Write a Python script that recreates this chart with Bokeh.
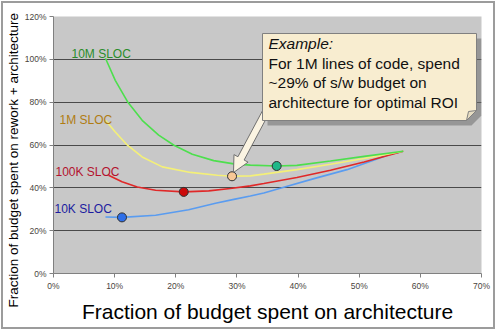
import numpy as np
from bokeh.plotting import figure
from bokeh.models import FixedTicker, Range1d, Title
from bokeh.core.properties import value
from bokeh.embed import file_html
from bokeh.resources import INLINE

# ---- data (percent) ----
x_ticks = [0, 10, 20, 30, 40, 50, 60, 70]
x_tick_labels = ["0%", "10%", "20%", "30%", "40%", "50%", "60%", "70%"]
y_ticks = [0, 20, 40, 60, 80, 100, 120]
y_tick_labels = ["0%", "20%", "40%", "60%", "80%", "100%", "120%"]

series_names = ["10M SLOC", "1M SLOC", "100K SLOC", "10K SLOC"]

x_10m = [8.5, 10.1, 12.2, 14.5, 17.2, 19.7, 22.7, 26.2, 29.5, 32.2, 36.5, 39.8, 45.3, 50.8, 57.2]
y_10m = [100.5, 90.2, 79.8, 71.5, 64.6, 59.9, 55.7, 52.7, 51.2, 50.6, 50.2, 50.5, 52.5, 54.7, 57.1]

x_1m = [8.5, 10.1, 12.1, 14.5, 17.8, 22.4, 26.8, 29.2, 32.2, 34.4, 39.8, 45.3, 50.8, 57.2]
y_1m = [71.6, 66.1, 59.9, 54.4, 49.8, 47.2, 45.9, 45.4, 45.6, 46.4, 48.5, 51.0, 53.7, 57.1]

x_100k = [9.0, 11.2, 13.7, 16.7, 21.3, 25.4, 28.9, 32.2, 34.4, 39.8, 45.3, 50.8, 57.2]
y_100k = [45.9, 42.8, 40.4, 38.9, 38.1, 38.6, 39.7, 40.9, 42.0, 44.8, 48.2, 52.1, 57.1]

x_10k = [8.5, 11.2, 16.7, 22.1, 26.5, 29.5, 32.2, 34.4, 37.1, 42.6, 48.0, 54.6, 57.2]
y_10k = [26.4, 26.2, 27.2, 29.8, 32.8, 34.6, 36.2, 37.6, 39.8, 44.3, 48.5, 55.2, 57.1]

opt_x = [36.5, 29.2, 21.3, 11.2]
opt_y = [50.2, 45.4, 38.1, 26.2]

x_title = "Fraction of budget spent on architecture"
y_title = "Fraction of budget spent on rework + architecture"
callout_title = "Example:"
callout_lines = ["For 1M lines of code, spend", "~29% of s/w budget on", "architecture for optimal ROI"]

# ---- styling ----
line_colors = ["#4ddf4d", "#f4f078", "#e02828", "#5a9cf0"]
marker_colors = ["#1fb889", "#f8c896", "#cc0a0a", "#2f6fe8"]
label_colors = ["#2a8c2a", "#b07c12", "#b3122e", "#1c1ca0"]

W, H = 494, 328
FL, FR, FT, FB = 53, 481, 16, 273  # frame in page pixels


def dx(px):
    return (px - FL) * 70.0 / (FR - FL)


def dy(py):
    return (FB - py) * 120.0 / (FB - FT)


p = figure(width=W, height=H, output_backend="svg", toolbar_location=None,
           x_range=Range1d(0, 70), y_range=Range1d(0, 120),
           min_border_left=50, min_border_right=16, min_border_top=13, min_border_bottom=58,
           background_fill_color="#c8c8c8", border_fill_color="white")
p.styles = {"border": "2px solid #9c9c9c", "margin": "1px"}
p.outline_line_color = None

p.xaxis.ticker = FixedTicker(ticks=x_ticks)
p.yaxis.ticker = FixedTicker(ticks=y_ticks)
p.xaxis.major_label_overrides = dict(zip(x_ticks, x_tick_labels))
p.yaxis.major_label_overrides = dict(zip(y_ticks, y_tick_labels))
for ax in (p.xaxis, p.yaxis):
    ax.axis_line_color = "#808080"
    ax.major_tick_line_color = "#808080"
    ax.major_tick_out = 4
    ax.major_tick_in = 0
    ax.minor_tick_line_color = None
    ax.major_label_text_font = "Liberation Sans"
    ax.major_label_text_font_size = "8.5px"
    ax.major_label_text_color = "#4a4540"
    ax.major_label_standoff = 3
    ax.axis_label_text_font = "Liberation Sans"
    ax.axis_label_text_font_style = "normal"
    ax.axis_label_text_color = "black"

p.xaxis.axis_label = x_title
p.xaxis.axis_label_text_font_size = "21px"
p.xaxis.axis_label_standoff = 6

p.xgrid.grid_line_color = None
p.ygrid.ticker = FixedTicker(ticks=[20, 40, 60, 80, 100])
p.ygrid.grid_line_color = "#4a4a4a"
p.ygrid.grid_line_width = 1

p.add_layout(Title(text=y_title, align="left", offset=-34, standoff=1,
                   text_font="Liberation Sans", text_font_size="13.5px",
                   text_font_style="normal", text_color="black"), "left")

xs_all = [x_10m, x_1m, x_100k, x_10k]
ys_all = [y_10m, y_1m, y_100k, y_10k]
for i in [3, 2, 1, 0]:
    p.line(xs_all[i], ys_all[i], line_color=line_colors[i], line_width=1.6)

p.scatter(opt_x, opt_y, size=9, fill_color=marker_colors, line_color="#303030", line_width=1)

# series labels
lab_px = [(71, 53), (59, 119), (55, 171), (54, 208)]
p.text([dx(a) for a, b in lab_px], [dy(b) for a, b in lab_px], text=series_names,
       text_color=label_colors, text_font=value("Liberation Sans"), text_font_size="12px",
       text_baseline="middle", text_align="left")

# ---- callout ----
bl, bt, br, bb = 262, 33, 476, 120
fold = 10
sh = 5
p.patch([dx(v) for v in [bl + sh, br + sh, br + sh, br - fold + sh, bl + sh]],
        [dy(v) for v in [bt + sh, bt + sh, bb - fold + sh, bb + sh, bb + sh]],
        fill_color="#6e6e6e", fill_alpha=0.55, line_color=None)

tail = np.array([265.0, 112.0])
tip = np.array([233.0, 172.0])
u = (tip - tail) / np.linalg.norm(tip - tail)
n = np.array([-u[1], u[0]])
sw, hw, hl = 3.5, 8.0, 16.0
neck = tip - u * hl
pts = [tail + n * sw, neck + n * sw, neck + n * hw, tip, neck - n * hw, neck - n * sw, tail - n * sw]
p.patch([dx(q[0]) for q in pts], [dy(q[1]) for q in pts],
        fill_color="#fbf4e2", line_color="#707070", line_width=1)

p.patch([dx(v) for v in [bl, br, br, br - fold, bl]],
        [dy(v) for v in [bt, bt, bb - fold, bb, bb]],
        fill_color="#f8edd0", line_color="#808080", line_width=1)
p.patch([dx(v) for v in [br - fold, br - fold + 2, br]],
        [dy(v) for v in [bb, bb - fold + 1, bb - fold]],
        fill_color="#e6dcc2", line_color="#808080", line_width=1)

tx = dx(268)
p.text([tx], [dy(43)], text=[callout_title], text_font=value("Liberation Sans"),
       text_font_style="italic", text_font_size="15.5px", text_color="#111111",
       text_baseline="middle", text_align="left")
p.text([tx] * 3, [dy(62.7), dy(82), dy(101.7)], text=callout_lines,
       text_font=value("Liberation Sans"), text_font_size="15.5px", text_color="#111111",
       text_baseline="middle", text_align="left")

open("out.html", "w").write(file_html(p, INLINE))
